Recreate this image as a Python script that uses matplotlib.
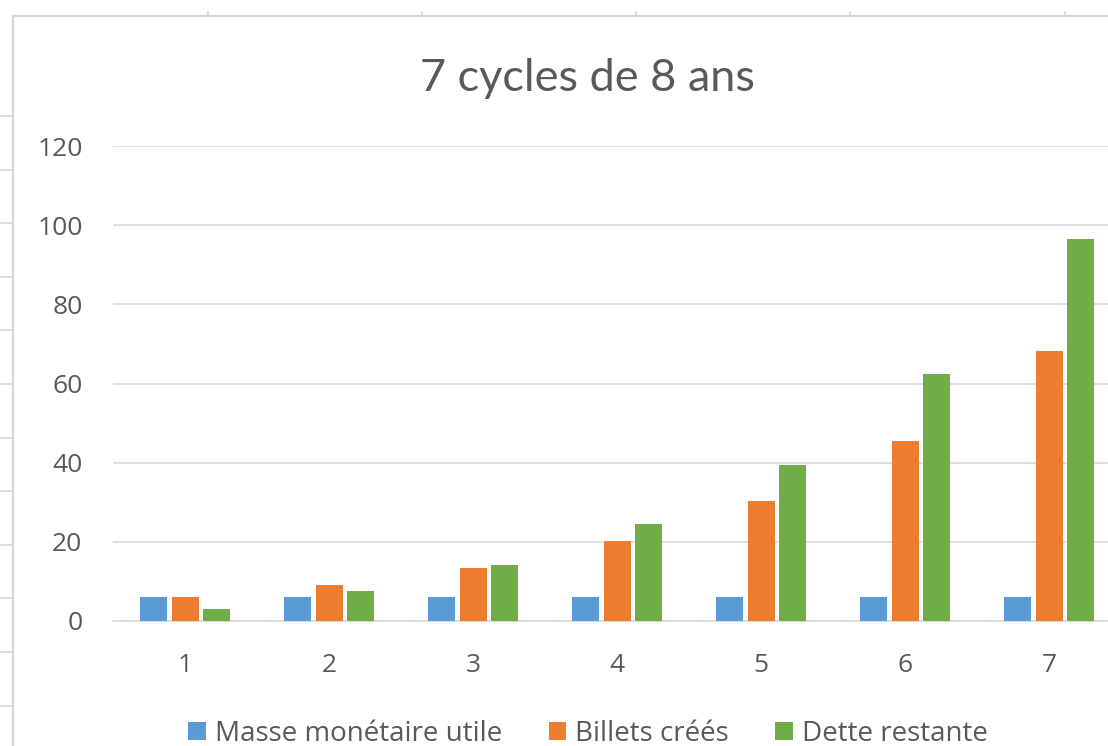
import numpy as np
import matplotlib
matplotlib.use("Agg")
import matplotlib.pyplot as plt
from matplotlib.patches import Patch
from matplotlib.lines import Line2D

# data
cycles = ["1", "2", "3", "4", "5", "6", "7"]
masse_utile = [6, 6, 6, 6, 6, 6, 6]
billets_crees = [6, 9, 13.5, 20.25, 30.4, 45.6, 68.3]
dette_restante = [3, 7.5, 14.25, 24.4, 39.5, 62.3, 96.5]
series_names = ["Masse monétaire utile", "Billets créés", "Dette restante"]
colors = ["#5B9BD5", "#ED7D31", "#70AD47"]
y_ticks = [0, 20, 40, 60, 80, 100, 120]

plt.rcParams['font.family'] = ['Open Sans', 'DejaVu Sans']

W, H = 1108, 746
fig = plt.figure(figsize=(W / 100, H / 100), dpi=100)
fig.patch.set_facecolor("white")

# plot area (extends a bit past the right edge, like the cropped screenshot)
ax = fig.add_axes([113 / W, 1 - 621 / H, 1008 / W, (621 - 146) / H])

x = np.arange(1, len(cycles) + 1)
bw = 0.1875
off = 0.222
for i, vals in enumerate([masse_utile, billets_crees, dette_restante]):
    ax.bar(x + (i - 1) * off, vals, width=bw, color=colors[i], zorder=3)

ax.set_xlim(0.5, 7.5)
ax.set_ylim(0, 120)
ax.set_yticks(y_ticks)
ax.set_xticks(x)
ax.set_xticklabels(cycles)
ax.grid(axis="y", color="#D9D9D9", linewidth=1.2)
ax.set_axisbelow(True)
for s in ["top", "right", "left"]:
    ax.spines[s].set_visible(False)
ax.spines["bottom"].set_color("#D9D9D9")
ax.spines["bottom"].set_linewidth(1.2)
ax.tick_params(axis="both", length=0, labelsize=19, labelcolor="#595959")
ax.tick_params(axis="x", pad=23)
ax.tick_params(axis="y", pad=22)

fig.text(587 / W, 1 - 91 / H, "7 cycles de 8 ans", ha="center", va="baseline",
         fontsize=32.5, color="#595959", family=["Lato", "DejaVu Sans"])

handles = [Patch(facecolor=c, edgecolor="none") for c in colors]
fig.legend(handles, series_names, loc="center", bbox_to_anchor=(588 / W, 1 - 734 / H),
           ncol=3, frameon=False, fontsize=20, labelcolor="#595959",
           handlelength=0.62, handleheight=0.62, handletextpad=0.33,
           columnspacing=1.68, borderpad=0)

# chart border and spreadsheet cell lines around it
g = "#D6D6D6"
fig.add_artist(Line2D([13 / W, 13 / W], [0, 1 - 16 / H], color=g, lw=1.6))
fig.add_artist(Line2D([13 / W, 1], [1 - 16 / H, 1 - 16 / H], color=g, lw=1.6))
for xp in [208, 422, 636, 850, 1065]:
    fig.add_artist(Line2D([xp / W, xp / W], [1 - 12 / H, 1 - 16 / H], color=g, lw=1.2))
for k in range(12):
    yp = 116 + 53.6 * k
    fig.add_artist(Line2D([0, 13 / W], [1 - yp / H, 1 - yp / H], color=g, lw=1.2))

fig.savefig("out.png", dpi=100)
